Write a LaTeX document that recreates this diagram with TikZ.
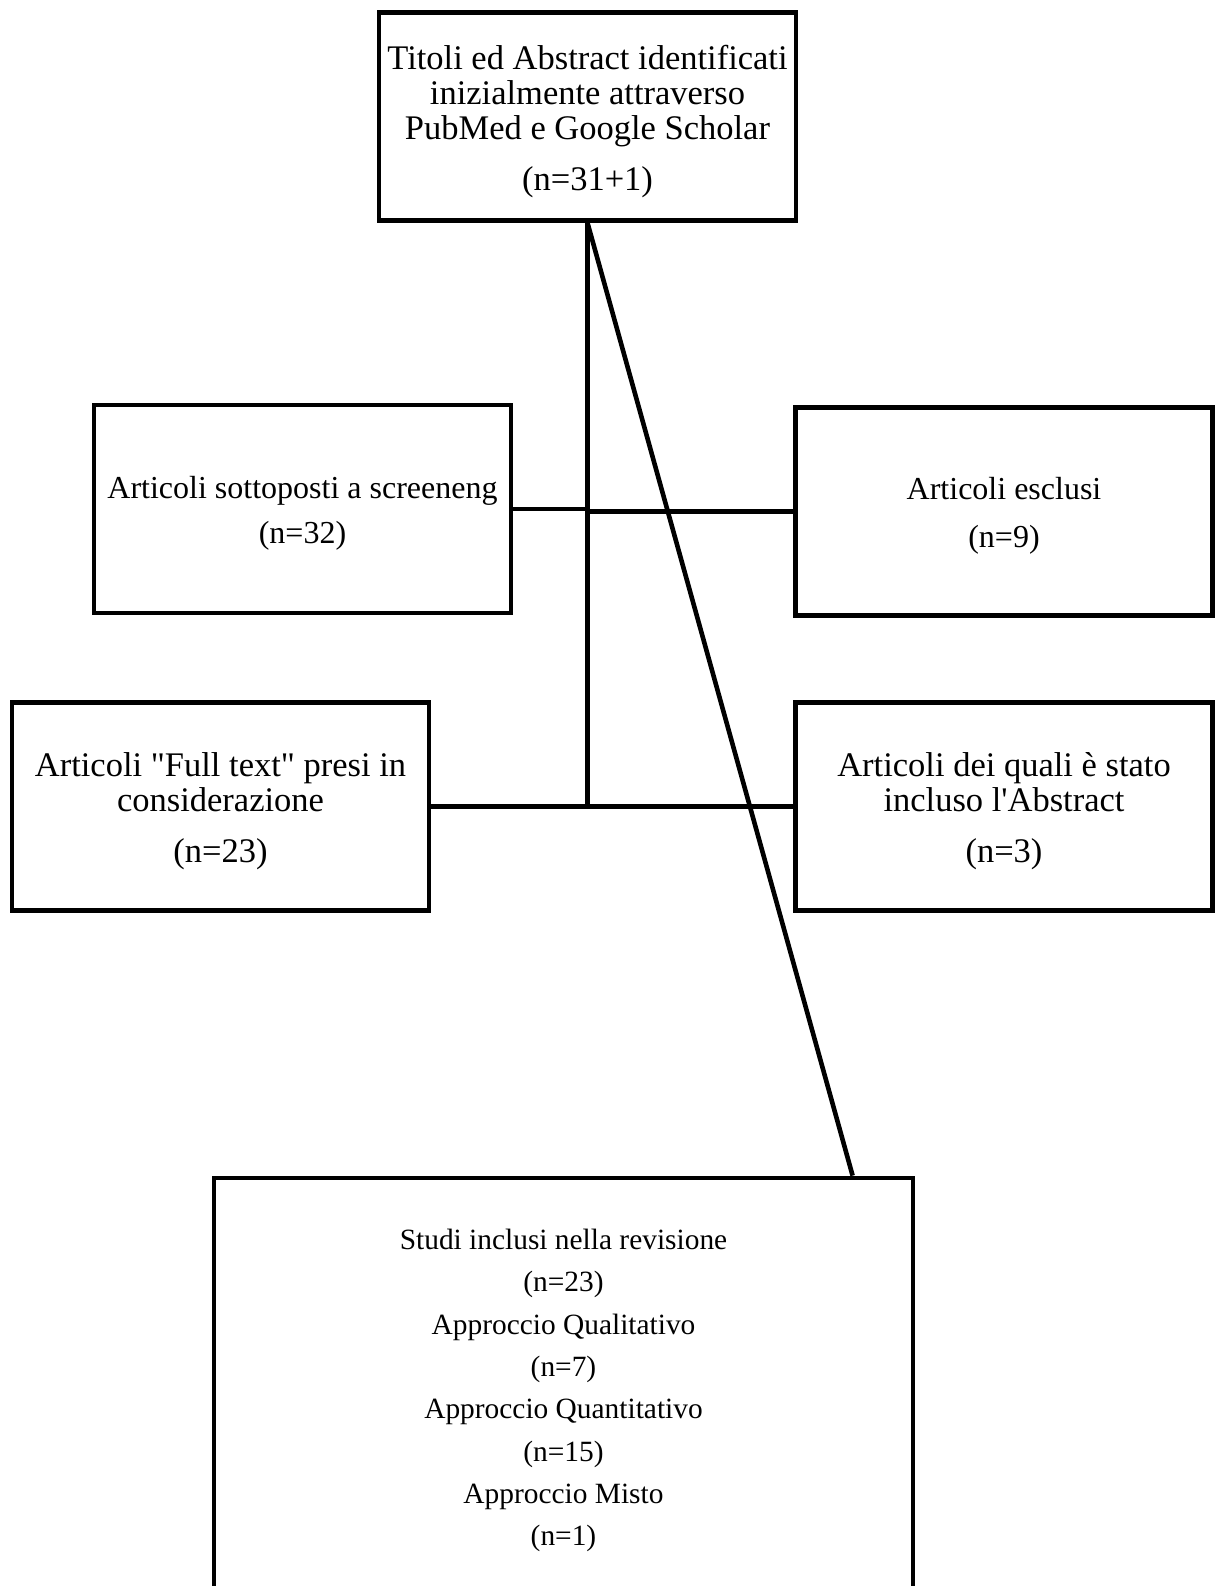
\documentclass[tikz,border=0pt]{standalone}
\usepackage{fontspec}
\setmainfont{Liberation Serif}[Ligatures=TeXOff]
\begin{document}
\begin{tikzpicture}[x=1pt,y=-1pt,
  box/.style={draw,line width=4.8pt,inner sep=0pt,minimum width=417pt,minimum height=208pt},
  txt/.style={inner sep=0pt,align=center,font=\fontsize{34.5}{35}\selectfont},
  conn/.style={line width=4.6pt}]
\clip (0,0) rectangle (1219,1586);
\node[box] (top) at (587.5,116.5) {};
\node[box] (screen) at (302.5,509) {};
\node[box] (escl) at (1004,511.5) {};
\node[box] (full) at (220.5,806.5) {};
\node[box] (abs) at (1004,806.5) {};
\node[box,minimum width=699pt,minimum height=419pt] (bot) at (563.5,1387.5) {};
\node[txt] (topT) at ([yshift=-5pt]top.center) {Titoli ed Abstract identificati\\inizialmente attraverso\\PubMed e Google Scholar\\[15.6pt](n=31+1)};
\node[txt,font=\fontsize{32}{35}\selectfont] (screenT) at ([yshift=-4.5pt]screen.center) {Articoli sottoposti a screeneng\\[10.5pt](n=32)};
\node[txt,font=\fontsize{32}{35}\selectfont] (esclT) at ([yshift=-4.5pt]escl.center) {Articoli esclusi\\[12.5pt](n=9)};
\node[txt] (fullT) at ([yshift=-4.5pt]full.center) {Articoli "Full text" presi in\\considerazione\\[15.6pt](n=23)};
\node[txt] (absT) at ([yshift=-4.5pt]abs.center) {Articoli dei quali è stato\\incluso l'Abstract\\[15.6pt](n=3)};
\node[txt,font=\fontsize{29.4}{42.35}\selectfont] (botT) at ([yshift=-3pt]bot.center)
  {Studi inclusi nella revisione\\(n=23)\\Approccio Qualitativo\\(n=7)\\Approccio Quantitativo\\(n=15)\\Approccio Misto\\(n=1)};
\coordinate (j1) at (top.south |- screen.east);
\coordinate (j2) at (top.south |- full.east);
\draw[conn] (top.south) -- (j2);
\draw[conn] (screen.east) -- (j1);
\draw[conn] (j1 |- escl.west) -- (escl.west);
\draw[conn] (full.east) -- (abs.west);
\draw[conn] (top.south) -- ([xshift=641pt]bot.north west);
\end{tikzpicture}
\end{document}
